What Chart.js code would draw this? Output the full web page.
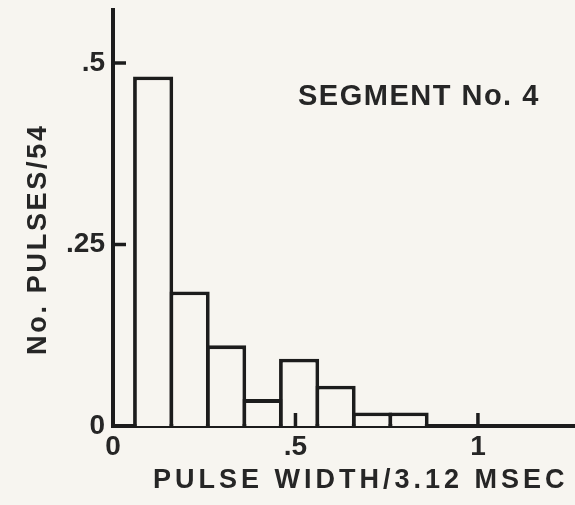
<!DOCTYPE html>
<html>
<head>
<meta charset="utf-8">
<script src="https://cdn.jsdelivr.net/npm/chart.js@4.4.1/dist/chart.umd.min.js"></script>
<style>
  html, body { margin: 0; padding: 0; background: #f7f5f0; }
  #wrap { width: 575px; height: 505px; position: relative; }
</style>
</head>
<body>
<div id="wrap"><canvas id="hist"></canvas></div>
<script>
// pulse width histogram, segment 4 (54 pulses)
const binCenters = [0.11, 0.21, 0.31, 0.41, 0.51, 0.61, 0.71, 0.81];
const pulseCounts = [26, 10, 6, 2, 5, 3, 1, 1];
const totalPulses = 54;
const xTickValues = [0, 0.5, 1];
const xTickLabels = ["0", ".5", "1"];
const yTickValues = [0, 0.25, 0.5];
const yTickLabels = ["0", ".25", ".5"];
const segmentLabel = "SEGMENT No. 4";
const xTitle = "PULSE WIDTH/3.12 MSEC";
const yTitle = "No. PULSES/54";

const INK = "#1c1c1c";
const PAPER = "#f7f5f0";
const TEXT = "#262626";
const FONT = "'Liberation Sans', Arial, sans-serif";

const points = binCenters.map((c, i) => ({ x: c, y: pulseCounts[i] / totalPulses }));

// short tick marks pointing into the plot, plus the hand-lettered captions
const annotate = {
  id: "annotate",
  afterDraw(chart) {
    const { ctx, scales: { x, y } } = chart;
    ctx.save();
    ctx.strokeStyle = INK;
    ctx.lineWidth = 3.5;
    yTickValues.filter(v => v > 0).forEach(v => {
      const py = y.getPixelForValue(v);
      ctx.beginPath();
      ctx.moveTo(x.left, py);
      ctx.lineTo(x.left + 13, py);
      ctx.stroke();
    });
    xTickValues.filter(v => v > 0).forEach(v => {
      const px = x.getPixelForValue(v);
      ctx.beginPath();
      ctx.moveTo(px, y.bottom);
      ctx.lineTo(px, y.bottom - 13);
      ctx.stroke();
    });

    ctx.fillStyle = TEXT;
    ctx.textBaseline = "alphabetic";
    ctx.textAlign = "left";
    ctx.font = "bold 29px " + FONT;
    ctx.letterSpacing = "1.5px";
    ctx.fillText(segmentLabel, 298, 105);

    ctx.font = "bold 27px " + FONT;
    ctx.letterSpacing = "4px";
    ctx.fillText(xTitle, 153, 488);

    ctx.letterSpacing = "2.7px";
    ctx.translate(46, 355);
    ctx.rotate(-Math.PI / 2);
    ctx.fillText(yTitle, 0, 0);
    ctx.restore();
  }
};

const tickFont = { family: FONT, size: 28, weight: "bold" };

new Chart(document.getElementById("hist"), {
  type: "bar",
  data: {
    datasets: [{
      data: points,
      backgroundColor: PAPER,
      borderColor: INK,
      borderWidth: 3.8,
      borderSkipped: "bottom",
      barPercentage: 1.1,
      categoryPercentage: 1
    }]
  },
  options: {
    responsive: true,
    maintainAspectRatio: false,
    animation: false,
    layout: { padding: { top: 10, right: 0, left: 0, bottom: 0 } },
    plugins: { legend: { display: false }, tooltip: { enabled: false } },
    scales: {
      x: {
        type: "linear",
        min: 0, max: 1.266,
        offset: false,
        z: 1,
        grid: { display: false, drawTicks: false, offset: false },
        border: { display: true, color: INK, width: 4 },
        afterBuildTicks: s => { s.ticks = xTickValues.map(v => ({ value: v })); },
        afterFit: s => { s.height = 79; s.paddingLeft = 0; s.paddingRight = 0; },
        ticks: {
          autoSkip: false, maxRotation: 0, padding: 4,
          color: TEXT, font: tickFont,
          callback: v => xTickLabels[xTickValues.indexOf(v)]
        }
      },
      y: {
        min: 0, max: 0.573,
        z: 1,
        grid: { display: false, drawTicks: false },
        border: { display: true, color: INK, width: 4 },
        afterBuildTicks: s => { s.ticks = yTickValues.map(v => ({ value: v })); },
        afterFit: s => { s.width = 113; s.paddingTop = 0; s.paddingBottom = 0; },
        ticks: {
          padding: 8,
          color: TEXT, font: tickFont,
          callback: v => yTickLabels[yTickValues.indexOf(v)]
        }
      }
    }
  },
  plugins: [annotate]
});
</script>
</body>
</html>
